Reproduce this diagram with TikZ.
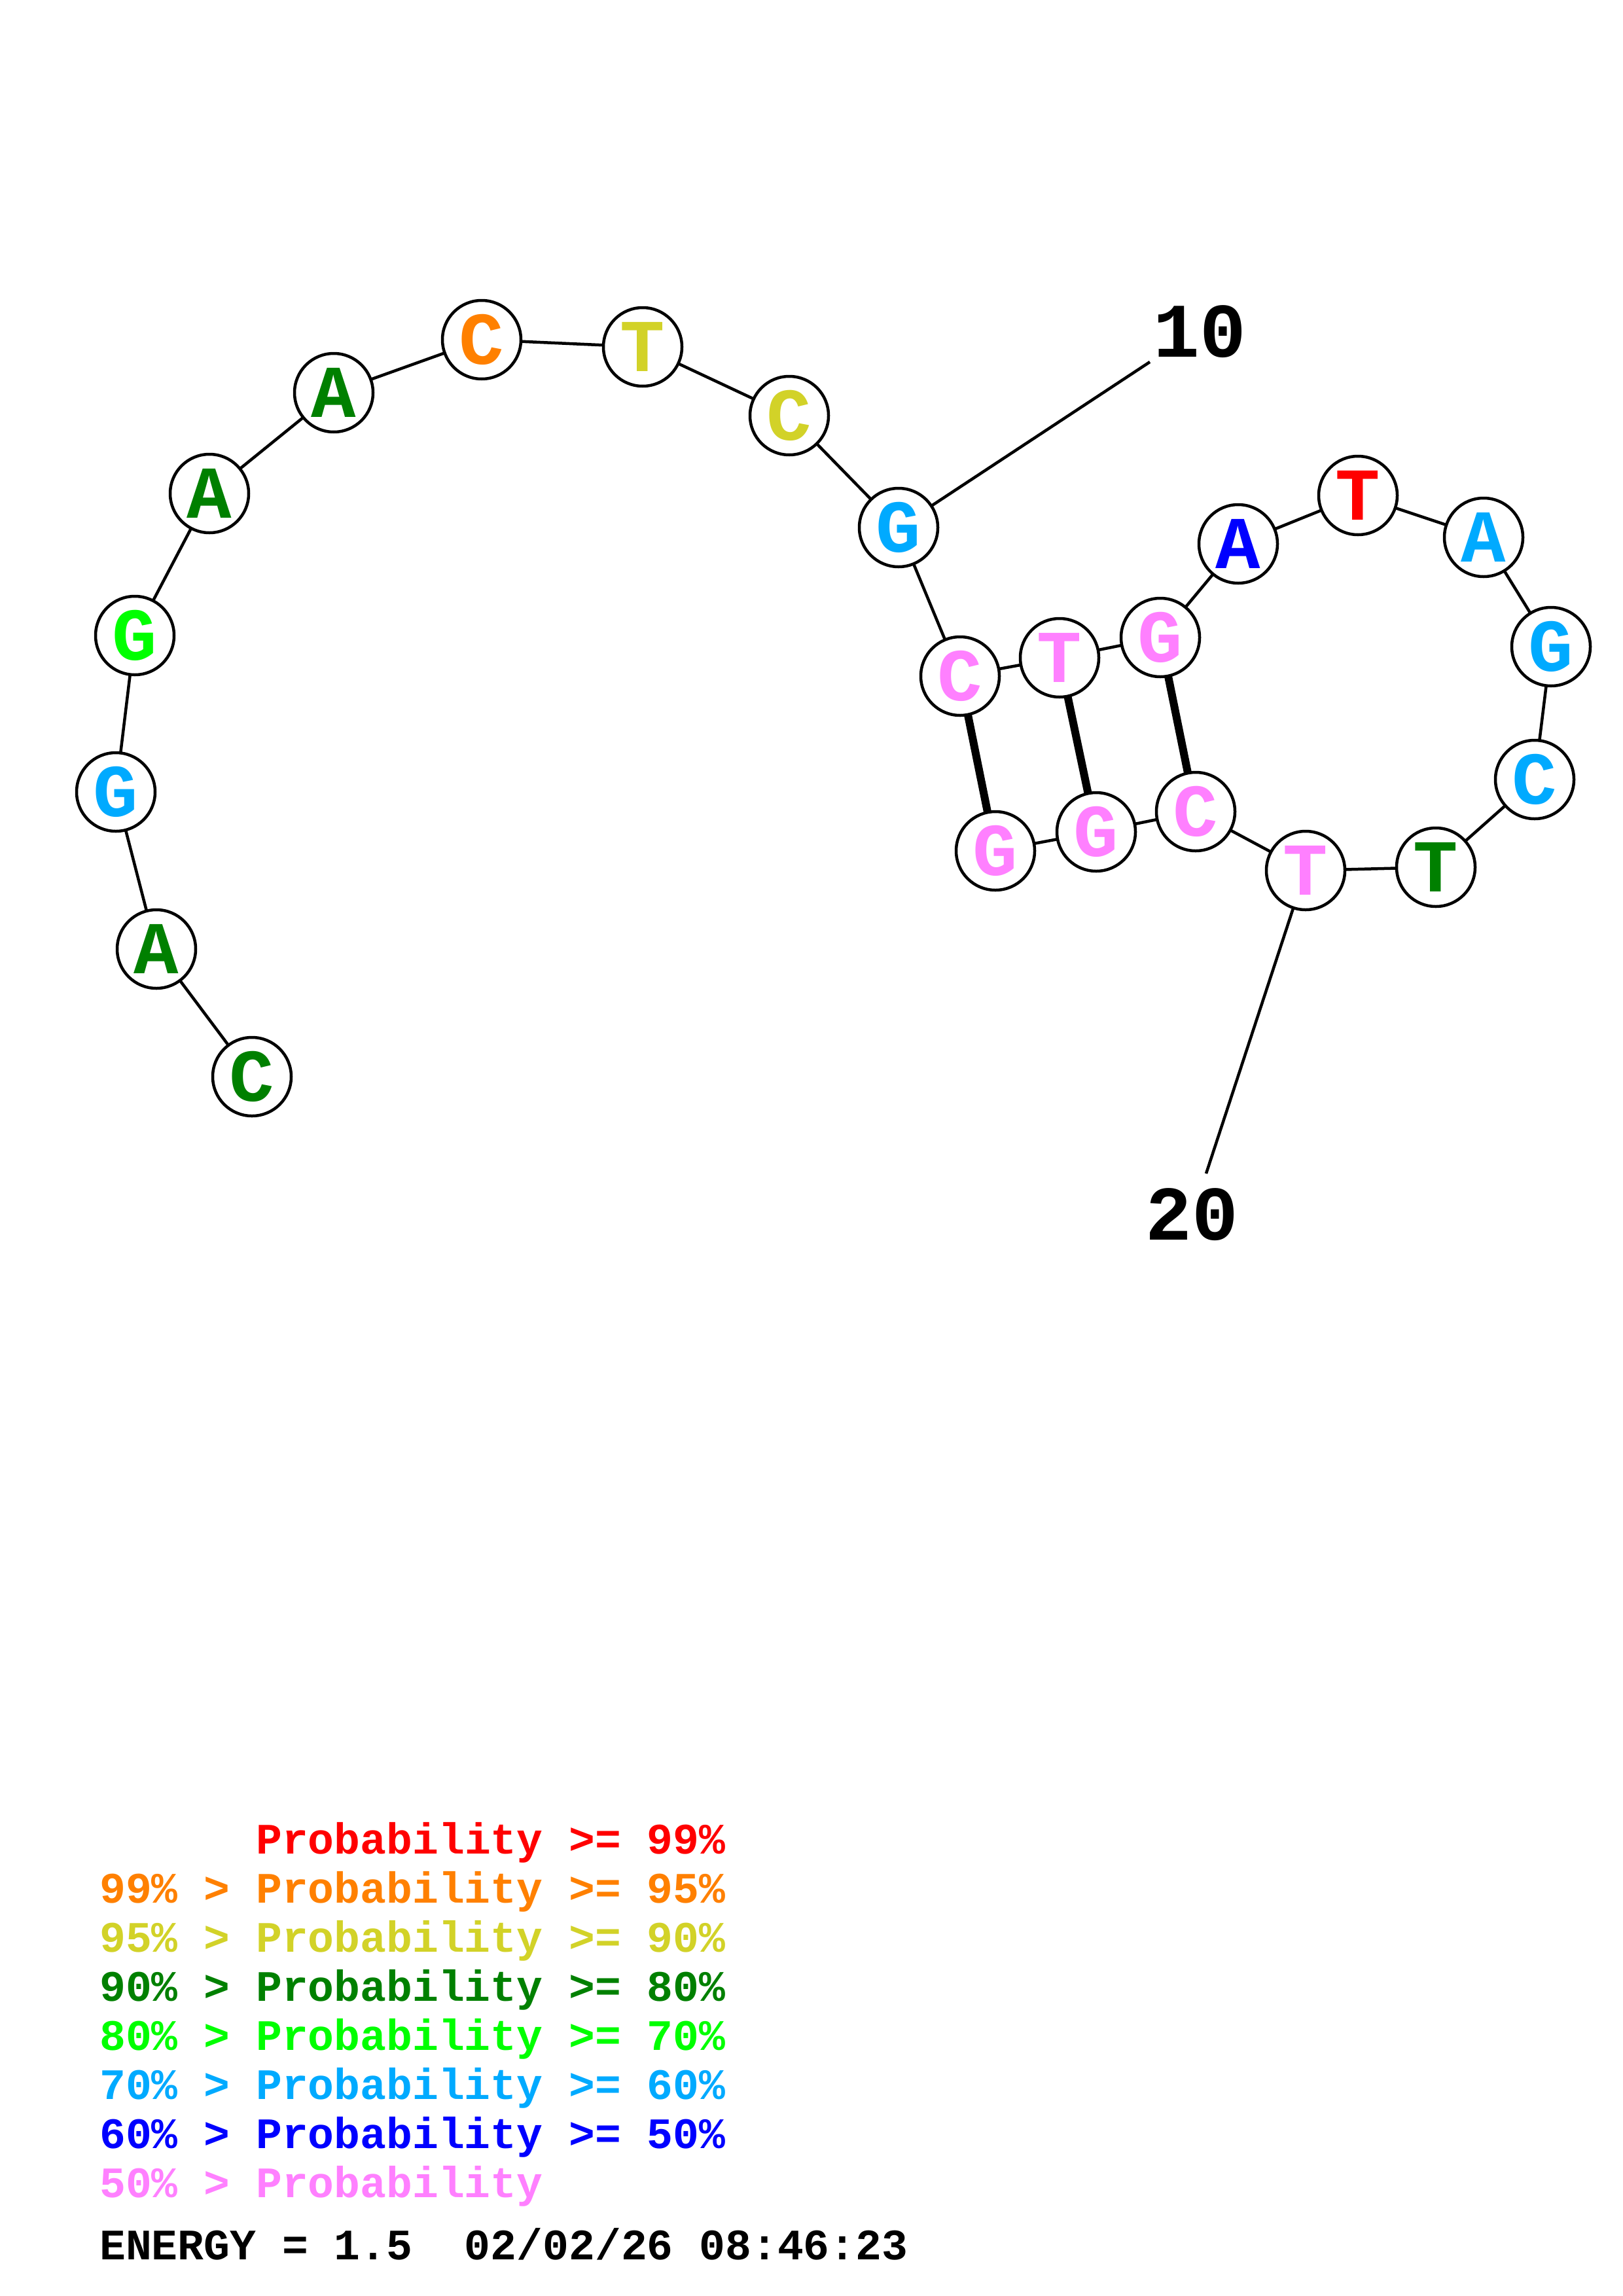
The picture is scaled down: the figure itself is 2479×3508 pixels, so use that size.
\documentclass[tikz,border=0pt]{standalone}
\usepackage{fontspec}
\setmonofont{Liberation Mono}
\newfontfamily\basefont[BoldFont={Liberation Mono Bold}]{Liberation Mono}
\definecolor{cdg}{RGB}{0,128,0}
\definecolor{clg}{RGB}{0,255,0}
\definecolor{clb}{RGB}{0,170,255}
\definecolor{cbl}{RGB}{0,0,255}
\definecolor{cpk}{RGB}{255,128,255}
\definecolor{cye}{RGB}{210,210,40}
\definecolor{cor}{RGB}{255,128,0}
\definecolor{crd}{RGB}{255,0,0}
\begin{document}
\begin{tikzpicture}[x=1pt,y=-1pt,
  base/.style={circle,draw,line width=4.5pt,fill=white,minimum size=120pt,inner sep=0pt,
    font=\fontsize{114}{114}\selectfont\basefont\bfseries},
  bb/.style={line width=4.5pt},
  pairline/.style={line width=12pt},
  num/.style={font=\fontsize{118}{118}\selectfont\basefont\bfseries},
  leg/.style={anchor=base west,inner sep=0pt,font=\fontsize{66.4}{66.4}\selectfont\basefont\bfseries}]
\useasboundingbox (0,0) rectangle (2479,3508);
\fill[white] (0,0) rectangle (2479,3508);
\coordinate (p1) at (385,1645);
\coordinate (p2) at (239,1450);
\coordinate (p3) at (177,1210);
\coordinate (p4) at (206,971);
\coordinate (p5) at (320,754);
\coordinate (p6) at (510,600);
\coordinate (p7) at (736,519);
\coordinate (p8) at (982,530);
\coordinate (p9) at (1206,635);
\coordinate (p10) at (1373,806);
\coordinate (p11) at (1467,1033);
\coordinate (p12) at (1619,1005);
\coordinate (p13) at (1773,974);
\coordinate (p14) at (1892,831);
\coordinate (p15) at (2075,757);
\coordinate (p16) at (2267,821);
\coordinate (p17) at (2370,988);
\coordinate (p18) at (2345,1191);
\coordinate (p19) at (2194,1325);
\coordinate (p20) at (1995,1330);
\coordinate (p21) at (1827,1240);
\coordinate (p22) at (1675,1271);
\coordinate (p23) at (1521,1300);
\coordinate (e10) at (1757,553);
\coordinate (e20) at (1843,1793);
\foreach \a/\b in {1/2,2/3,3/4,4/5,5/6,6/7,7/8,8/9,9/10,10/11,11/12,12/13,13/14,14/15,15/16,16/17,17/18,18/19,19/20,20/21,21/22,22/23}
  \draw[bb] (p\a) -- (p\b);
\draw[bb] (p10) -- (e10);
\draw[bb] (p20) -- (e20);
\draw[pairline] (p11) -- (p23);
\draw[pairline] (p12) -- (p22);
\draw[pairline] (p13) -- (p21);
\node[base,text=cdg] (n1) at (p1) {C};
\node[base,text=cdg] (n2) at (p2) {A};
\node[base,text=clb] (n3) at (p3) {G};
\node[base,text=clg] (n4) at (p4) {G};
\node[base,text=cdg] (n5) at (p5) {A};
\node[base,text=cdg] (n6) at (p6) {A};
\node[base,text=cor] (n7) at (p7) {C};
\node[base,text=cye] (n8) at (p8) {T};
\node[base,text=cye] (n9) at (p9) {C};
\node[base,text=clb] (n10) at (p10) {G};
\node[base,text=cpk] (n11) at (p11) {C};
\node[base,text=cpk] (n12) at (p12) {T};
\node[base,text=cpk] (n13) at (p13) {G};
\node[base,text=cbl] (n14) at (p14) {A};
\node[base,text=crd] (n15) at (p15) {T};
\node[base,text=clb] (n16) at (p16) {A};
\node[base,text=clb] (n17) at (p17) {G};
\node[base,text=clb] (n18) at (p18) {C};
\node[base,text=cdg] (n19) at (p19) {T};
\node[base,text=cpk] (n20) at (p20) {T};
\node[base,text=cpk] (n21) at (p21) {C};
\node[base,text=cpk] (n22) at (p22) {G};
\node[base,text=cpk] (n23) at (p23) {G};
\node[num,anchor=base west,inner sep=0pt] (l10) at (1762,545) {10};
\node[num,anchor=base west,inner sep=0pt] (l20) at (1750,1894) {20};
\node[leg,text=crd] (g1) at (152,2832) {~~~~~~Probability~>=~99\%};
\node[leg,text=cor] (g2) at (152,2907) {99\%~>~Probability~>=~95\%};
\node[leg,text=cye] (g3) at (152,2982) {95\%~>~Probability~>=~90\%};
\node[leg,text=cdg] (g4) at (152,3057) {90\%~>~Probability~>=~80\%};
\node[leg,text=clg] (g5) at (152,3132) {80\%~>~Probability~>=~70\%};
\node[leg,text=clb] (g6) at (152,3207) {70\%~>~Probability~>=~60\%};
\node[leg,text=cbl] (g7) at (152,3282) {60\%~>~Probability~>=~50\%};
\node[leg,text=cpk] (g8) at (152,3357) {50\%~>~Probability};
\node[leg,text=black] (g9) at (152,3452) {ENERGY~=~1.5~~02/02/26~08:46:23};
\end{tikzpicture}
\end{document}
